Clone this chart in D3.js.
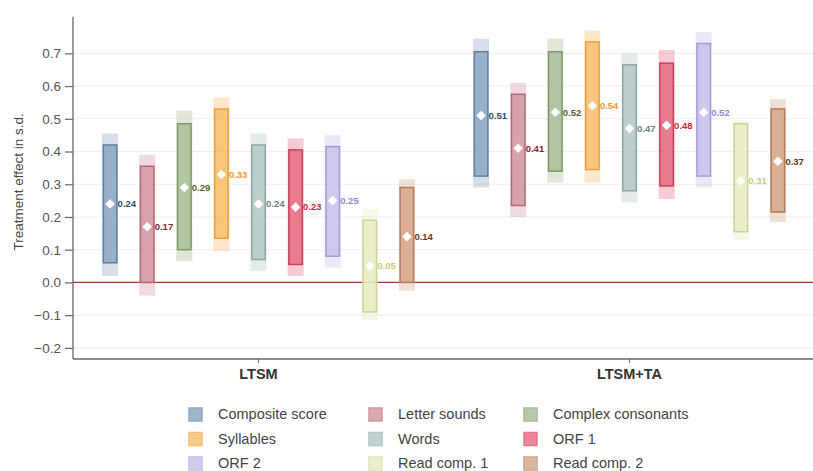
<!DOCTYPE html>
<html>
<head>
<meta charset="utf-8">
<script src="https://cdn.jsdelivr.net/npm/d3@7"></script>
<style>
  html, body { margin: 0; padding: 0; background: #fff; }
  svg { display: block; font-family: "Liberation Sans", Arial, Helvetica, sans-serif; }
</style>
</head>
<body>
<svg id="chart" width="813" height="471"></svg>
<script>
// Programmes compared on the x axis
const programmes = ["LTSM", "LTSM+TA"];

// Reading outcomes, one bar per outcome within each programme
const outcomes = ["Composite score", "Letter sounds", "Complex consonants",
                  "Syllables", "Words", "ORF 1", "ORF 2", "Read comp. 1", "Read comp. 2"];

// Point estimates (s.d.)
const estLTSM   = [0.24, 0.17, 0.29, 0.33, 0.24, 0.23, 0.25, 0.05, 0.14];
const estLTSMTA = [0.51, 0.41, 0.52, 0.54, 0.47, 0.48, 0.52, 0.31, 0.37];

// Inner (darker, outlined) interval
const innerLoLTSM   = [0.06, 0.00, 0.10, 0.135, 0.07, 0.055, 0.08, -0.09, 0.00];
const innerHiLTSM   = [0.42, 0.355, 0.485, 0.53, 0.42, 0.405, 0.415, 0.19, 0.29];
const innerLoLTSMTA = [0.325, 0.235, 0.34, 0.345, 0.28, 0.295, 0.325, 0.155, 0.215];
const innerHiLTSMTA = [0.705, 0.575, 0.705, 0.735, 0.665, 0.67, 0.73, 0.485, 0.53];

// Outer (faint) interval
const outerLoLTSM   = [0.02, -0.04, 0.065, 0.095, 0.035, 0.02, 0.045, -0.115, -0.025];
const outerHiLTSM   = [0.455, 0.39, 0.525, 0.565, 0.455, 0.44, 0.45, 0.225, 0.315];
const outerLoLTSMTA = [0.29, 0.20, 0.305, 0.305, 0.245, 0.255, 0.29, 0.13, 0.185];
const outerHiLTSMTA = [0.745, 0.61, 0.745, 0.77, 0.70, 0.71, 0.765, 0.495, 0.56];

// Y axis ticks
const yTicks = [-0.2, -0.1, 0.0, 0.1, 0.2, 0.3, 0.4, 0.5, 0.6, 0.7];

// Outcome colours: fill, outline, label
const fillColors  = ["#8aa4c0", "#d2949d", "#a6bb92", "#f6bb6a", "#b3c7c5", "#e6667f", "#c4c1ea", "#e8ebc2", "#d3a386"];
const lineColors  = ["#5f7fa0", "#b06a75", "#7f9a68", "#eaa040", "#8ea8a5", "#c8405c", "#a19dd6", "#cdd296", "#b57a58"];
const labelColors = ["#2b4a6e", "#8a2232", "#4d6436", "#ee9a2a", "#6f8280", "#d01f3c", "#8f8ad0", "#c6cc7c", "#6a3418"];

const rows = [
  { prog: programmes[0], est: estLTSM, iLo: innerLoLTSM, iHi: innerHiLTSM, oLo: outerLoLTSM, oHi: outerHiLTSM },
  { prog: programmes[1], est: estLTSMTA, iLo: innerLoLTSMTA, iHi: innerHiLTSMTA, oLo: outerLoLTSMTA, oHi: outerHiLTSMTA }
];
const data = [];
rows.forEach(r => outcomes.forEach((o, i) => data.push({
  prog: r.prog, outcome: o, idx: i, est: r.est[i],
  iLo: r.iLo[i], iHi: r.iHi[i], oLo: r.oLo[i], oHi: r.oHi[i]
})));

const svg = d3.select("#chart");
const plotL = 73, plotR = 815, plotT = 16.7, plotB = 359;

const x0 = d3.scaleBand().domain(programmes).range([plotL, plotR]);
const x1 = d3.scalePoint().domain(outcomes).range([0, x0.bandwidth()]).padding(1);
const y = d3.scaleLinear().domain([-0.234, 0.812]).range([plotB, plotT]);

const barW = 15;

// Gridlines
svg.append("g").selectAll("line").data(yTicks.filter(t => t !== 0)).join("line")
  .attr("x1", plotL).attr("x2", plotR)
  .attr("y1", d => y(d)).attr("y2", d => y(d))
  .attr("stroke", "#eeeeee").attr("stroke-width", 1);

// Zero reference line
svg.append("line")
  .attr("x1", plotL).attr("x2", plotR)
  .attr("y1", y(0)).attr("y2", y(0))
  .attr("stroke", "#b3322f").attr("stroke-width", 1.2);

const cx = d => x0(d.prog) + x1(d.outcome);

const marks = svg.append("g");
// Outer faint interval
marks.selectAll("rect.outer").data(data).join("rect").attr("class", "outer")
  .attr("x", d => cx(d) - barW / 2 - 0.5).attr("width", barW + 1)
  .attr("y", d => y(d.oHi)).attr("height", d => y(d.oLo) - y(d.oHi))
  .attr("fill", d => fillColors[d.idx]).attr("fill-opacity", 0.35);
// Inner outlined interval
marks.selectAll("rect.inner").data(data).join("rect").attr("class", "inner")
  .attr("x", d => cx(d) - barW / 2 + 0.75).attr("width", barW - 1.5)
  .attr("y", d => y(d.iHi)).attr("height", d => y(d.iLo) - y(d.iHi))
  .attr("fill", d => fillColors[d.idx]).attr("fill-opacity", 0.8)
  .attr("stroke", d => lineColors[d.idx]).attr("stroke-width", 1.5);
// Point estimate markers
const dia = 4.8;
marks.selectAll("path.pt").data(data).join("path").attr("class", "pt")
  .attr("d", d => {
    const px = cx(d), py = y(d.est);
    return `M${px},${py - dia}L${px + dia},${py}L${px},${py + dia}L${px - dia},${py}Z`;
  })
  .attr("fill", "#fff");
// Value labels
marks.selectAll("text.val").data(data).join("text").attr("class", "val")
  .attr("x", d => cx(d) + 7.5).attr("y", d => y(d.est))
  .attr("dy", "0.35em")
  .attr("font-size", 9.5).attr("font-weight", "bold")
  .attr("fill", d => labelColors[d.idx])
  .text(d => d3.format(".2f")(d.est));

// Y axis
const yAxis = svg.append("g").attr("transform", `translate(${plotL},0)`)
  .call(d3.axisLeft(y).tickValues(yTicks).tickFormat(d3.format(".1f")).tickSize(8).tickPadding(4));
yAxis.select(".domain").attr("d", `M0,${plotT}V${plotB}`).attr("stroke", "#666").attr("stroke-width", 1.3);
yAxis.selectAll(".tick line").attr("stroke", "#666").attr("stroke-width", 1.2);
yAxis.selectAll(".tick text").attr("fill", "#555").attr("font-size", 13.5).attr("font-family", "Liberation Sans, Arial, sans-serif");

// X axis
const xAxis = svg.append("g").attr("transform", `translate(0,${plotB})`)
  .call(d3.axisBottom(x0).tickSize(4).tickPadding(6));
xAxis.select(".domain").attr("d", `M${plotL},0H${plotR}`).attr("stroke", "#666").attr("stroke-width", 1.3);
xAxis.selectAll(".tick line").attr("stroke", "#666");
xAxis.selectAll(".tick text").attr("fill", "#333").attr("font-size", 14.5).attr("font-weight", "bold")
  .attr("font-family", "Liberation Sans, Arial, sans-serif");

// Y axis title
svg.append("text")
  .attr("transform", `translate(18,${(plotT + plotB) / 2 - 6}) rotate(-90)`)
  .attr("text-anchor", "middle").attr("dy", "0.35em")
  .attr("font-size", 13.5).attr("fill", "#444")
  .text("Treatment effect in s.d.");

// Legend: three columns, three rows
const legX = [188, 368, 523];
const legY = [414, 438.5, 463];
const leg = svg.append("g").selectAll("g").data(outcomes).join("g")
  .attr("transform", (d, i) => `translate(${legX[i % 3]},${legY[Math.floor(i / 3)]})`);
leg.append("rect")
  .attr("x", 0.75).attr("y", -6.25).attr("width", 13.5).attr("height", 13.5)
  .attr("fill", (d, i) => fillColors[i]).attr("fill-opacity", 0.8)
  .attr("stroke", (d, i) => lineColors[i]).attr("stroke-opacity", 0.5).attr("stroke-width", 1.2);
leg.append("text")
  .attr("x", 30).attr("dy", "0.35em")
  .attr("font-size", 14.5).attr("fill", "#444")
  .text(d => d);
</script>
</body>
</html>
